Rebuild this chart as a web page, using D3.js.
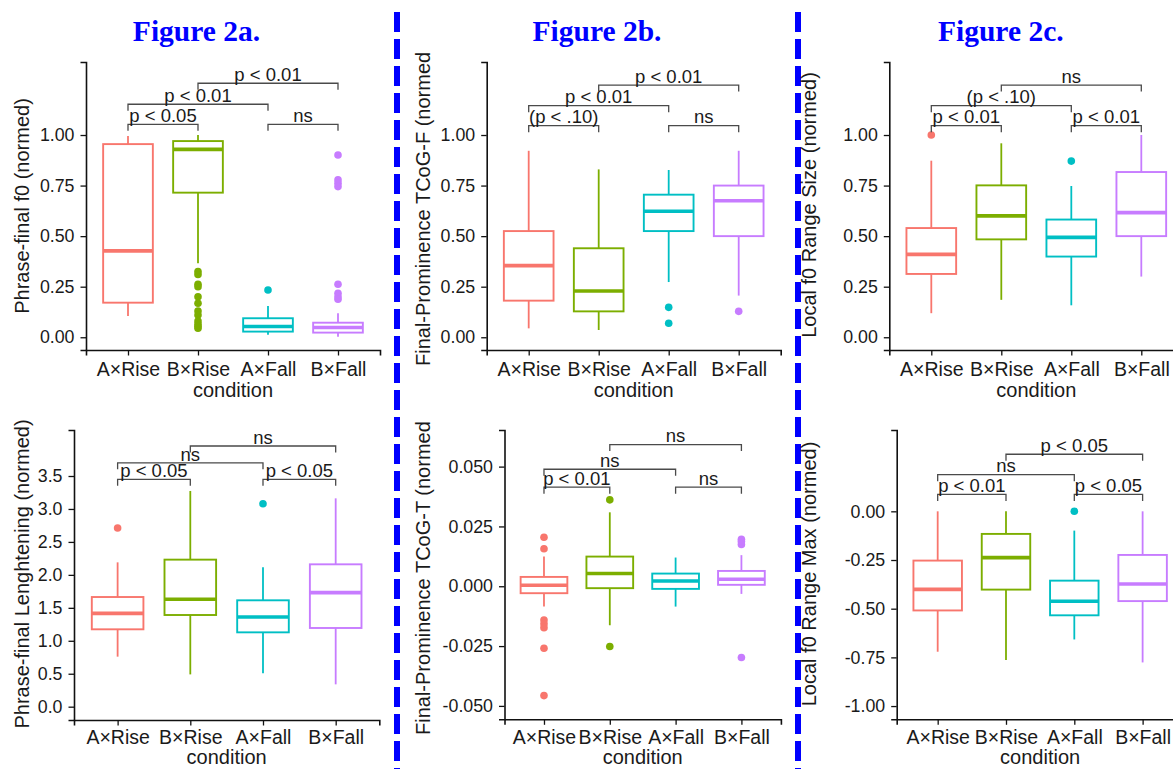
<!DOCTYPE html>
<html>
<head>
<meta charset="utf-8">
<script src="https://cdn.jsdelivr.net/npm/d3@7"></script>
<style>
  body { margin: 0; background: #fff; }
  svg { display: block; }
  text { font-family: "Liberation Sans", Arial, Helvetica, sans-serif; fill: #1a1a1a; }
  .fig-title { font-family: "Liberation Serif", "Times New Roman", serif; font-weight: bold; fill: #0000ff; font-size: 29.5px; }
</style>
</head>
<body>
<div id="vis"></div>
<script>
// categories and colours shared by all six panels
const CATEGORIES = ["A×Rise", "B×Rise", "A×Fall", "B×Fall"];
const COLORS = ["#F8766D", "#7CAE00", "#00BFC4", "#C77CFF"];

// box stats per condition: [lower whisker, q1, median, q3, upper whisker]
const f0Stats = [[0.105, 0.171, 0.427, 0.955, 0.995], [0.366, 0.715, 0.929, 0.97, 1.0],
                 [0.012, 0.028, 0.053, 0.094, 0.155], [0.003, 0.023, 0.048, 0.072, 0.119]];
const f0Outliers = [[], [0.325, 0.31, 0.262, 0.25, 0.2, 0.168, 0.13, 0.11, 0.08, 0.065, 0.055, 0.045],
                    [0.234], [0.901, 0.778, 0.761, 0.745, 0.262, 0.217, 0.2, 0.188]];
const f0Ticks = [0, 0.25, 0.5, 0.75, 1.0];
const f0Brackets = [[0, 1, 1.053, "p < 0.05"], [2, 3, 1.053, "ns"], [0, 2, 1.152, "p < 0.01"], [1, 3, 1.256, "p < 0.01"]];

const tcogFStats = [[0.044, 0.181, 0.354, 0.525, 0.922], [0.036, 0.128, 0.229, 0.44, 0.83],
                    [0.273, 0.525, 0.623, 0.705, 0.827], [0.206, 0.50, 0.675, 0.75, 0.922]];
const tcogFOutliers = [[], [], [0.148, 0.069], [0.128]];
const tcogFTicks = [0, 0.25, 0.5, 0.75, 1.0];
const tcogFBrackets = [[0, 1, 1.046, "(p < .10)"], [2, 3, 1.046, "ns"], [0, 2, 1.145, "p < 0.01"], [1, 3, 1.247, "p < 0.01"]];

const rangeSizeStats = [[0.119, 0.313, 0.41, 0.54, 0.873], [0.185, 0.484, 0.60, 0.751, 0.959],
                        [0.158, 0.399, 0.494, 0.582, 0.748], [0.30, 0.50, 0.616, 0.817, 1.0]];
const rangeSizeOutliers = [[1.0], [], [0.871], []];
const rangeSizeTicks = [0, 0.25, 0.5, 0.75, 1.0];
const rangeSizeBrackets = [[0, 1, 1.046, "p < 0.01"], [2, 3, 1.046, "p < 0.01"], [0, 2, 1.145, "(p < .10)"], [1, 3, 1.247, "ns"]];

const lengthStats = [[0.759, 1.174, 1.416, 1.664, 2.19], [0.49, 1.391, 1.629, 2.231, 3.273],
                     [0.506, 1.128, 1.361, 1.614, 2.114], [0.339, 1.194, 1.73, 2.16, 3.161]];
const lengthOutliers = [[2.711], [], [3.08], []];
const lengthTicks = [0, 0.5, 1.0, 1.5, 2.0, 2.5, 3.0, 3.5];
const lengthBrackets = [[0, 1, 3.45, "p < 0.05"], [2, 3, 3.45, "p < 0.05"], [0, 2, 3.70, "ns"], [1, 3, 3.955, "ns"]];

const tcogTStats = [[-0.0085, -0.0029, 0.0004, 0.0039, 0.0124], [-0.0163, -0.0008, 0.0053, 0.0124, 0.0309],
                    [-0.0085, -0.0011, 0.0022, 0.0053, 0.012], [-0.0032, 0.0006, 0.0029, 0.0064, 0.013]];
const tcogTOutliers = [[0.0205, 0.0157, -0.0141, -0.0157, -0.0173, -0.0259, -0.0457], [0.0361, -0.0252],
                       [], [0.0196, 0.0187, 0.0175, -0.0298]];
const tcogTTicks = [-0.05, -0.025, 0, 0.025, 0.05];
const tcogTBrackets = [[0, 1, 0.0414, "p < 0.01"], [2, 3, 0.0414, "ns"], [0, 2, 0.0489, "ns"], [1, 3, 0.0592, "ns"]];

const rangeMaxStats = [[-0.721, -0.509, -0.401, -0.253, 0.0], [-0.764, -0.402, -0.238, -0.116, 0.0],
                       [-0.658, -0.534, -0.462, -0.356, -0.099], [-0.776, -0.461, -0.373, -0.224, 0.0]];
const rangeMaxOutliers = [[], [], [0.0], []];
const rangeMaxTicks = [-1.0, -0.75, -0.5, -0.25, 0];
const rangeMaxBrackets = [[0, 1, 0.087, "p < 0.01"], [2, 3, 0.087, "p < 0.05"], [0, 2, 0.188, "ns"], [1, 3, 0.293, "p < 0.05"]];

const FIG_TITLES = ["Figure 2a.", "Figure 2b.", "Figure 2c."];

// layout of each panel on the page
const PANELS = [
  {stats: f0Stats, outliers: f0Outliers, ticks: f0Ticks, brackets: f0Brackets, digits: 2,
   ylabel: "Phrase-final f0 (normed)", left: 86, right: 380, top: 62, bottom: 350,
   ydom: [-0.063, 1.361], labX: 22, labY: 206, anchor: "middle", tickY: 362, condY: 397},
  {stats: tcogFStats, outliers: tcogFOutliers, ticks: tcogFTicks, brackets: tcogFBrackets, digits: 2,
   ylabel: "Final-Prominence TCoG-F (normed", left: 486.7, right: 780.7, top: 62, bottom: 350,
   ydom: [-0.063, 1.361], labX: 423, labY: 366, anchor: "start", tickY: 362, condY: 397},
  {stats: rangeSizeStats, outliers: rangeSizeOutliers, ticks: rangeSizeTicks, brackets: rangeSizeBrackets, digits: 2,
   ylabel: "Local f0 Range Size (normed)", left: 889.3, right: 1183.3, top: 62, bottom: 350,
   ydom: [-0.063, 1.361], labX: 808.7, labY: 205, anchor: "middle", tickY: 362, condY: 397},
  {stats: lengthStats, outliers: lengthOutliers, ticks: lengthTicks, brackets: lengthBrackets, digits: 1,
   ylabel: "Phrase-final Lenghtening (normed)", left: 74, right: 379.3, top: 430, bottom: 720,
   ydom: [-0.202, 4.198], labX: 21.7, labY: 574, anchor: "middle", tickY: 730, condY: 764},
  {stats: tcogTStats, outliers: tcogTOutliers, ticks: tcogTTicks, brackets: tcogTBrackets, digits: 3,
   ylabel: "Final-Prominence TCoG-T (normed", left: 504.5, right: 780.9, top: 430, bottom: 719.3,
   ydom: [-0.0556, 0.0653], labX: 423, labY: 735, anchor: "start", tickY: 730, condY: 764},
  {stats: rangeMaxStats, outliers: rangeMaxOutliers, ticks: rangeMaxTicks, brackets: rangeMaxBrackets, digits: 2,
   ylabel: "Local f0 Range Max (normed)", left: 896.7, right: 1183.6, top: 430, bottom: 719.3,
   ydom: [-1.068, 0.4176], labX: 808.7, labY: 574, anchor: "middle", tickY: 730, condY: 764}
];

const svg = d3.select("#vis").append("svg")
  .attr("width", 1173).attr("height", 769);

// blue dashed separators
[397, 798].forEach(x => {
  svg.append("line")
    .attr("x1", x).attr("x2", x).attr("y1", 12).attr("y2", 769)
    .attr("stroke", "#0000ff").attr("stroke-width", 6)
    .attr("stroke-dasharray", "20,7");
});

// figure titles
const titleX = [196.5, 597, 1000.8];
FIG_TITLES.forEach((t, i) => {
  svg.append("text").attr("class", "fig-title")
    .attr("x", titleX[i]).attr("y", 41)
    .attr("text-anchor", "middle").text(t);
});

PANELS.forEach(p => {
  const g = svg.append("g");

  const x = d3.scalePoint().domain(CATEGORIES).range([p.left, p.right]).padding(0.6);
  const y = d3.scaleLinear().domain(p.ydom).range([p.bottom, p.top]);
  const bw = x.step() * 0.71;

  // y axis
  const yAxis = g.append("g")
    .attr("transform", "translate(" + p.left + ",0)")
    .call(d3.axisLeft(y).tickValues(p.ticks).tickSizeOuter(0).tickSize(5.5).tickPadding(6)
      .tickFormat(d => d.toFixed(p.digits)));
  yAxis.selectAll("text").attr("font-size", "17.8px").attr("fill", "#1a1a1a")
    .attr("font-family", "Liberation Sans, Arial, sans-serif");
  yAxis.select(".domain").attr("stroke", "#111").attr("stroke-width", 1.6);
  yAxis.selectAll(".tick line").attr("stroke", "#111").attr("stroke-width", 1.3);

  // x axis
  const xAxis = g.append("g")
    .attr("transform", "translate(0," + p.bottom + ")")
    .call(d3.axisBottom(x).tickSizeOuter(0).tickSize(5.5));
  xAxis.selectAll("text").attr("font-size", "19.5px").attr("fill", "#1a1a1a")
    .attr("font-family", "Liberation Sans, Arial, sans-serif")
    .attr("y", p.tickY - p.bottom);
  xAxis.select(".domain").attr("stroke", "#111").attr("stroke-width", 1.6);
  xAxis.selectAll(".tick line").attr("stroke", "#111").attr("stroke-width", 1.3);

  // axis titles
  g.append("text")
    .attr("x", (p.left + p.right) / 2)
    .attr("y", p.condY).attr("text-anchor", "middle")
    .attr("font-size", "20px").text("condition");

  g.append("text")
    .attr("transform", "translate(" + p.labX + "," + p.labY + ") rotate(-90)")
    .attr("text-anchor", p.anchor).attr("dy", "0.35em")
    .attr("font-size", "20px").text(p.ylabel);

  // boxes
  const boxes = g.selectAll(".box").data(p.stats).enter().append("g");
  boxes.append("line")
    .attr("x1", (d, i) => x(CATEGORIES[i])).attr("x2", (d, i) => x(CATEGORIES[i]))
    .attr("y1", d => y(d[0])).attr("y2", d => y(d[1]))
    .attr("stroke", (d, i) => COLORS[i]).attr("stroke-width", 1.8);
  boxes.append("line")
    .attr("x1", (d, i) => x(CATEGORIES[i])).attr("x2", (d, i) => x(CATEGORIES[i]))
    .attr("y1", d => y(d[3])).attr("y2", d => y(d[4]))
    .attr("stroke", (d, i) => COLORS[i]).attr("stroke-width", 1.8);
  boxes.append("rect")
    .attr("x", (d, i) => x(CATEGORIES[i]) - bw / 2).attr("width", bw)
    .attr("y", d => y(d[3])).attr("height", d => y(d[1]) - y(d[3]))
    .attr("fill", "none")
    .attr("stroke", (d, i) => COLORS[i]).attr("stroke-width", 1.9);
  boxes.append("line")
    .attr("x1", (d, i) => x(CATEGORIES[i]) - bw / 2).attr("x2", (d, i) => x(CATEGORIES[i]) + bw / 2)
    .attr("y1", d => y(d[2])).attr("y2", d => y(d[2]))
    .attr("stroke", (d, i) => COLORS[i]).attr("stroke-width", 3.6);

  // outliers
  p.outliers.forEach((arr, i) => {
    g.selectAll(null).data(arr).enter().append("circle")
      .attr("cx", x(CATEGORIES[i])).attr("cy", d => y(d))
      .attr("r", 3.8).attr("fill", COLORS[i]);
  });

  // significance brackets
  p.brackets.forEach(b => {
    const x1 = x(CATEGORIES[b[0]]), x2 = x(CATEGORIES[b[1]]), yy = y(b[2]);
    g.append("path")
      .attr("d", "M" + x1 + "," + (yy + 6.5) + "V" + yy + "H" + x2 + "V" + (yy + 6.5))
      .attr("fill", "none").attr("stroke", "#4a4a4a").attr("stroke-width", 1.3);
    g.append("text")
      .attr("x", (x1 + x2) / 2).attr("y", yy - 2.3)
      .attr("text-anchor", "middle").attr("font-size", "18.5px")
      .text(b[3]);
  });
});
</script>
</body>
</html>
